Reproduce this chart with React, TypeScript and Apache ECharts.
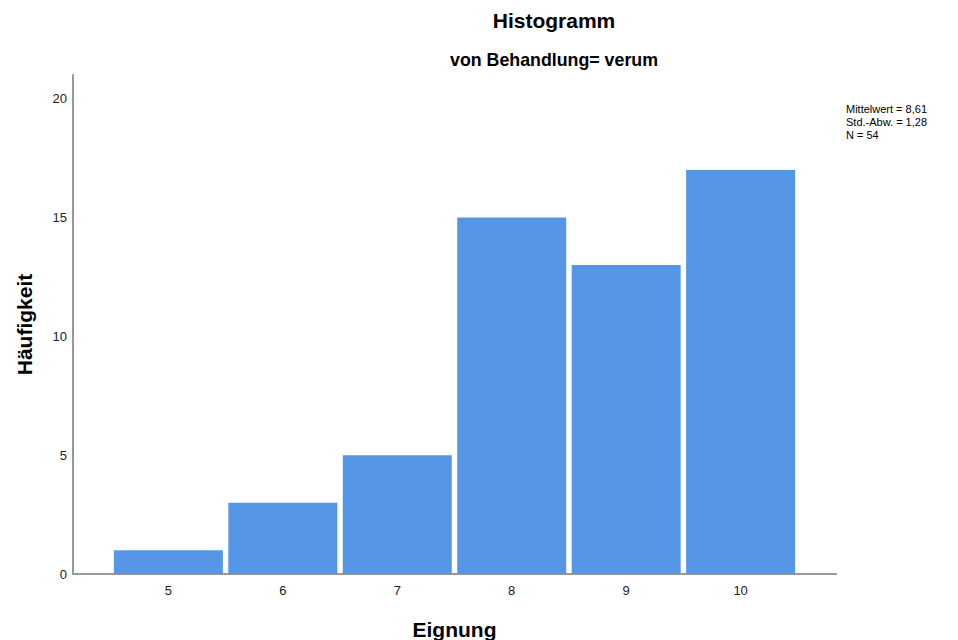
import React, { useEffect, useRef } from "react";
import * as echarts from "echarts";

const categories = [5, 6, 7, 8, 9, 10];
const counts = [1, 3, 5, 15, 13, 17];
const yTicks = [0, 5, 10, 15, 20];
const statsLines = ["Mittelwert = 8,61", "Std.-Abw. = 1,28", "N = 54"];

export default function App() {
  const ref = useRef<HTMLDivElement>(null);
  useEffect(() => {
    const chart = echarts.init(ref.current!, null, { renderer: "svg" });
    const font = "Arial, 'Liberation Sans', sans-serif";
    chart.setOption({
      animation: false,
      backgroundColor: "#ffffff",
      title: [
        {
          text: "Histogramm",
          left: 549,
          top: 5,
          textAlign: "center",
          textStyle: { fontFamily: font, fontSize: 21, fontWeight: "bold", color: "#000" },
        },
        {
          text: "von Behandlung= verum",
          left: 549,
          top: 46,
          textAlign: "center",
          textStyle: { fontFamily: font, fontSize: 17.8, fontWeight: "bold", color: "#000" },
        },
      ],
      graphic: [
        {
          type: "text",
          left: 846,
          top: 102,
          style: {
            text: statsLines.join("\n"),
            fontFamily: font,
            fontSize: 11,
            lineHeight: 13,
            fill: "#000",
          },
        },
      ],
      grid: {
        left: 73,
        right: 122,
        top: 75,
        bottom: 66,
        containLabel: false,
        outerBoundsMode: "none",
      },
      xAxis: {
        type: "value",
        min: 4.1667,
        max: 10.8333,
        name: "Eignung",
        nameLocation: "middle",
        nameGap: 45,
        nameTextStyle: { fontFamily: font, fontSize: 21, fontWeight: "bold", color: "#000" },
        axisLine: { show: true, lineStyle: { color: "#999", width: 2 } },
        axisTick: { show: false },
        splitLine: { show: false },
        axisLabel: {
          customValues: categories,
          fontFamily: font,
          fontSize: 13,
          color: "#222",
          margin: 10,
        },
      },
      yAxis: {
        type: "value",
        min: 0,
        max: 21,
        name: "Häufigkeit",
        nameLocation: "middle",
        nameGap: 38,
        nameRotate: 90,
        nameTextStyle: { fontFamily: font, fontSize: 21, fontWeight: "bold", color: "#000" },
        axisLine: { show: true, lineStyle: { color: "#999", width: 2 } },
        axisTick: { show: false },
        splitLine: { show: false },
        axisLabel: {
          customValues: yTicks,
          fontFamily: font,
          fontSize: 13,
          color: "#222",
          margin: 6,
        },
      },
      series: [
        {
          type: "bar",
          data: categories.map((c, i) => [c, counts[i]]),
          barWidth: 109,
          itemStyle: { color: "#5596E6" },
          silent: true,
        },
      ],
    });
    return () => chart.dispose();
  }, []);
  return (
    <div
      ref={ref}
      style={{ position: "fixed", left: 0, top: 0, width: 958, height: 640 }}
    />
  );
}
